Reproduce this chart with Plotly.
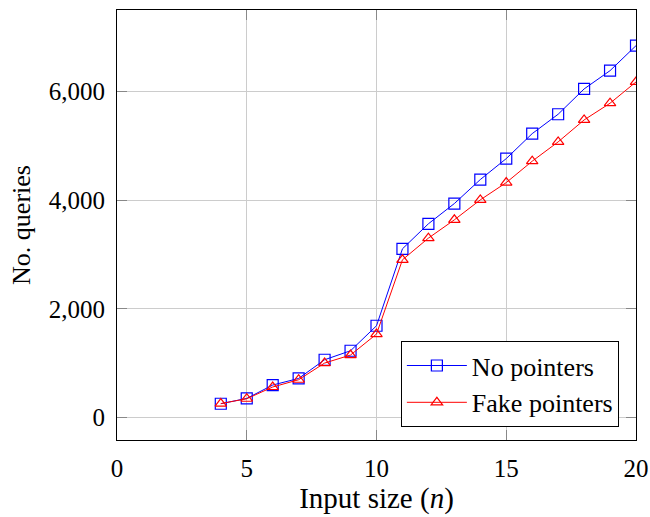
import plotly.graph_objects as go

n_values = list(range(4, 21))
no_pointers = [252, 350, 596, 718, 1062, 1228, 1688, 3105, 3566, 3939, 4381, 4767, 5227, 5584, 6050, 6387, 6847]
fake_pointers = [255, 344, 560, 694, 1001, 1149, 1535, 2903, 3302, 3639, 4007, 4325, 4719, 5075, 5479, 5787, 6179]
x_ticks = [0, 5, 10, 15, 20]
y_ticks = [0, 2000, 4000, 6000]
y_tick_labels = ["0", "2,000", "4,000", "6,000"]

FONT = "Liberation Serif"

fig = go.Figure()
fig.add_trace(go.Scatter(
    x=n_values, y=no_pointers, name="No pointers", mode="lines+markers",
    line=dict(color="#0000ff", width=1),
    marker=dict(symbol="square-open", size=11, color="#0000ff", line=dict(width=1.2)),
))
fig.add_trace(go.Scatter(
    x=n_values, y=fake_pointers, name="Fake pointers", mode="lines+markers",
    line=dict(color="#ff0000", width=1),
    marker=dict(symbol="triangle-up-open", size=10, color="#ff0000", line=dict(width=1.2)),
))

axis_common = dict(
    showline=True, linecolor="black", linewidth=1, mirror="ticks",
    ticks="inside", ticklen=10, tickcolor="#888888", tickwidth=1,
    showgrid=True, gridcolor="#cccccc", gridwidth=1, zeroline=False,
    automargin=False,
    tickfont=dict(family=FONT, size=25, color="black"),
)

fig.update_layout(
    width=650, height=517,
    margin=dict(l=117, r=14, t=10, b=77),
    paper_bgcolor="white", plot_bgcolor="white",
    font=dict(family=FONT, size=25, color="black"),
    xaxis=dict(range=[0, 20], tickvals=x_ticks, ticklabelstandoff=6,
               title=dict(text="Input size (<i>n</i>)", font=dict(family=FONT, size=29), standoff=6),
               **axis_common),
    yaxis=dict(range=[-416, 7504], tickvals=y_ticks, ticktext=y_tick_labels, ticklabelstandoff=6,
               title=dict(text="No. queries", font=dict(family=FONT, size=26), standoff=10),
               **axis_common),
    legend=dict(x=0.967, y=0.03, xanchor="right", yanchor="bottom",
                bordercolor="black", borderwidth=1, bgcolor="white",
                font=dict(family=FONT, size=26), tracegroupgap=0, itemwidth=60),
    showlegend=True,
)

fig.write_html(
    "out.html",
    config={"displayModeBar": False},
    post_script="document.body.style.margin='0';document.body.style.overflow='hidden';",
)
